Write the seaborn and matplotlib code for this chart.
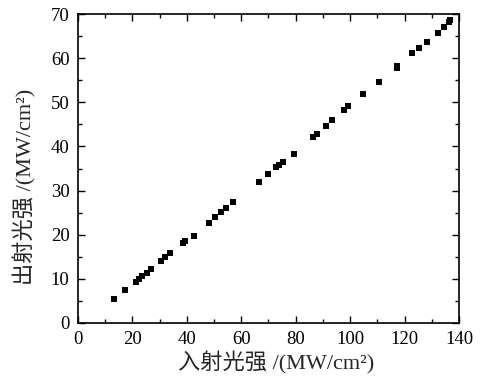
import matplotlib
matplotlib.use("Agg")
import matplotlib.pyplot as plt
import seaborn as sns
import pandas as pd
from matplotlib.ticker import MultipleLocator

incident = [13.4, 17.3, 21.2, 22.5, 23.7, 25.2, 27.0, 30.5, 32.0, 33.7,
            38.6, 39.5, 42.6, 48.1, 50.5, 52.7, 54.3, 57.1,
            66.4, 69.8, 72.8, 73.7, 75.2, 79.2, 86.2, 87.7, 91.2, 93.4,
            97.6, 99.2, 104.9, 110.7, 117.1, 117.3, 122.8, 125.4, 128.2,
            132.2, 134.4, 136.4, 136.8]
output = [5.5, 7.4, 9.2, 9.9, 10.6, 11.4, 12.3, 14.1, 14.9, 15.8,
          18.1, 18.5, 19.8, 22.7, 24.1, 25.2, 26.0, 27.4,
          32.0, 33.8, 35.4, 35.8, 36.4, 38.4, 42.1, 42.9, 44.7, 45.9,
          48.2, 49.1, 51.9, 54.6, 57.9, 58.3, 61.1, 62.4, 63.6,
          65.8, 67.0, 68.3, 68.6]

xlabel = "入射光强 /(MW/cm²)"
ylabel = "出射光强 /(MW/cm²)"

df = pd.DataFrame({"x": incident, "y": output})

sns.set_style("ticks")
plt.rcParams["font.family"] = ["Liberation Serif", "Noto Sans CJK SC"]

fig = plt.figure(figsize=(4.87, 3.83), dpi=100)
ax = fig.add_axes([0.160, 0.157, 0.7825, 0.806])

sns.scatterplot(data=df, x="x", y="y", marker="s", color="black",
                s=22, linewidth=0, ax=ax)

ax.set_xlim(0, 140)
ax.set_ylim(0, 70)
ax.xaxis.set_major_locator(MultipleLocator(20))
ax.xaxis.set_minor_locator(MultipleLocator(10))
ax.yaxis.set_major_locator(MultipleLocator(10))
ax.yaxis.set_minor_locator(MultipleLocator(5))
ax.tick_params(which="both", direction="in", top=True, right=True,
               labelsize=13.5, colors="black", width=1)
ax.tick_params(which="major", length=5, pad=6)
ax.tick_params(which="minor", length=3)
for sp in ax.spines.values():
    sp.set_visible(True)
    sp.set_linewidth(1.2)
    sp.set_color("black")

ax.set_xlabel(xlabel, fontsize=16, labelpad=2)
ax.set_ylabel(ylabel, fontsize=16, labelpad=10)
ax.xaxis.label.set_x(0.52)
ax.yaxis.label.set_y(0.44)

fig.savefig("out.png", dpi=100)
